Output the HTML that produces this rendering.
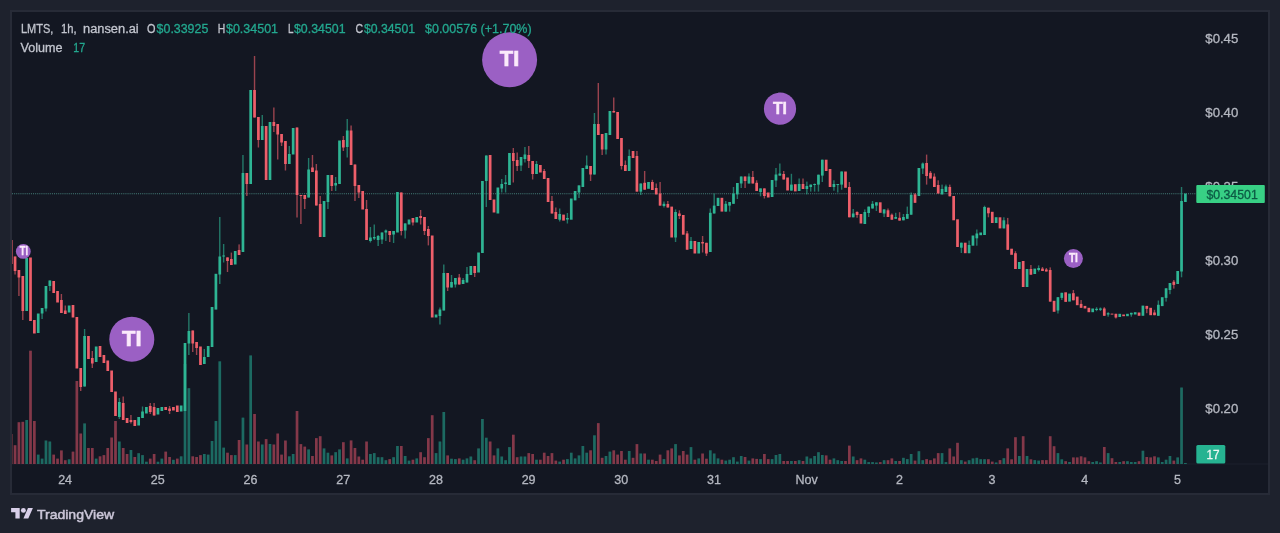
<!DOCTYPE html>
<html><head><meta charset="utf-8"><title>LMTS chart</title>
<style>
html,body{margin:0;padding:0;background:#1e222d;}
body{width:1280px;height:533px;overflow:hidden;font-family:"Liberation Sans",sans-serif;}
svg{display:block;}
svg text{font-family:"Liberation Sans",sans-serif;}
</style></head><body>
<svg width="1280" height="533" viewBox="0 0 1280 533">
<rect x="0" y="0" width="1280" height="533" fill="#1e222d"/>
<rect x="11" y="11" width="1258" height="483" fill="#131722" stroke="#272b37" stroke-width="2"/>
<defs><filter id="bl" x="-2%" y="-2%" width="104%" height="104%"><feGaussianBlur stdDeviation="0.4"/></filter><clipPath id="cp"><rect x="12" y="12" width="1256" height="452"/></clipPath></defs>
<rect x="12" y="463.5" width="1256" height="1" fill="#1d212c"/>
<g filter="url(#bl)">
<g clip-path="url(#cp)">
<g><rect x="9.85" y="434.0" width="2.7" height="30.0" fill="#84394a"/><rect x="13.71" y="445.2" width="2.7" height="18.8" fill="#84394a"/><rect x="17.57" y="422.2" width="2.7" height="41.8" fill="#84394a"/><rect x="21.44" y="421.8" width="2.7" height="42.2" fill="#84394a"/><rect x="25.30" y="420.0" width="2.7" height="44.0" fill="#1f6b62"/><rect x="29.16" y="350.7" width="2.7" height="113.3" fill="#84394a"/><rect x="33.02" y="421.0" width="2.7" height="43.0" fill="#84394a"/><rect x="36.89" y="454.6" width="2.7" height="9.4" fill="#1f6b62"/><rect x="40.75" y="458.6" width="2.7" height="5.4" fill="#1f6b62"/><rect x="44.61" y="440.5" width="2.7" height="23.5" fill="#1f6b62"/><rect x="48.48" y="441.5" width="2.7" height="22.5" fill="#1f6b62"/><rect x="52.34" y="454.6" width="2.7" height="9.4" fill="#84394a"/><rect x="56.20" y="458.6" width="2.7" height="5.4" fill="#84394a"/><rect x="60.06" y="450.4" width="2.7" height="13.6" fill="#84394a"/><rect x="63.92" y="460.2" width="2.7" height="3.8" fill="#84394a"/><rect x="67.79" y="459.3" width="2.7" height="4.7" fill="#1f6b62"/><rect x="71.65" y="451.6" width="2.7" height="12.4" fill="#84394a"/><rect x="75.51" y="381.0" width="2.7" height="83.0" fill="#84394a"/><rect x="79.38" y="433.5" width="2.7" height="30.5" fill="#84394a"/><rect x="83.24" y="423.4" width="2.7" height="40.6" fill="#1f6b62"/><rect x="87.10" y="448.0" width="2.7" height="16.0" fill="#84394a"/><rect x="90.96" y="448.0" width="2.7" height="16.0" fill="#84394a"/><rect x="94.83" y="458.6" width="2.7" height="5.4" fill="#1f6b62"/><rect x="98.69" y="456.3" width="2.7" height="7.7" fill="#84394a"/><rect x="102.55" y="455.1" width="2.7" height="8.9" fill="#84394a"/><rect x="106.41" y="448.0" width="2.7" height="16.0" fill="#84394a"/><rect x="110.28" y="437.5" width="2.7" height="26.5" fill="#84394a"/><rect x="114.14" y="421.0" width="2.7" height="43.0" fill="#84394a"/><rect x="118.00" y="441.5" width="2.7" height="22.5" fill="#1f6b62"/><rect x="121.86" y="448.0" width="2.7" height="16.0" fill="#84394a"/><rect x="125.73" y="454.0" width="2.7" height="10.0" fill="#84394a"/><rect x="129.59" y="450.0" width="2.7" height="14.0" fill="#1f6b62"/><rect x="133.45" y="457.0" width="2.7" height="7.0" fill="#84394a"/><rect x="137.31" y="453.2" width="2.7" height="10.8" fill="#1f6b62"/><rect x="141.17" y="455.1" width="2.7" height="8.9" fill="#1f6b62"/><rect x="145.04" y="461.7" width="2.7" height="2.3" fill="#1f6b62"/><rect x="148.90" y="458.6" width="2.7" height="5.4" fill="#84394a"/><rect x="152.76" y="454.0" width="2.7" height="10.0" fill="#84394a"/><rect x="156.62" y="461.7" width="2.7" height="2.3" fill="#1f6b62"/><rect x="160.49" y="458.6" width="2.7" height="5.4" fill="#1f6b62"/><rect x="164.35" y="451.6" width="2.7" height="12.4" fill="#84394a"/><rect x="168.21" y="457.0" width="2.7" height="7.0" fill="#84394a"/><rect x="172.07" y="459.8" width="2.7" height="4.2" fill="#1f6b62"/><rect x="175.94" y="458.6" width="2.7" height="5.4" fill="#84394a"/><rect x="179.80" y="456.3" width="2.7" height="7.7" fill="#1f6b62"/><rect x="183.66" y="364.0" width="2.7" height="100.0" fill="#1f6b62"/><rect x="187.52" y="388.2" width="2.7" height="75.8" fill="#1f6b62"/><rect x="191.39" y="456.3" width="2.7" height="7.7" fill="#84394a"/><rect x="195.25" y="457.0" width="2.7" height="7.0" fill="#84394a"/><rect x="199.11" y="455.1" width="2.7" height="8.9" fill="#84394a"/><rect x="202.97" y="454.0" width="2.7" height="10.0" fill="#1f6b62"/><rect x="206.84" y="454.6" width="2.7" height="9.4" fill="#1f6b62"/><rect x="210.70" y="441.0" width="2.7" height="23.0" fill="#1f6b62"/><rect x="214.56" y="421.0" width="2.7" height="43.0" fill="#1f6b62"/><rect x="218.42" y="361.3" width="2.7" height="102.7" fill="#1f6b62"/><rect x="222.29" y="447.6" width="2.7" height="16.4" fill="#1f6b62"/><rect x="226.15" y="452.7" width="2.7" height="11.3" fill="#84394a"/><rect x="230.01" y="455.1" width="2.7" height="8.9" fill="#84394a"/><rect x="233.87" y="455.1" width="2.7" height="8.9" fill="#1f6b62"/><rect x="237.74" y="440.0" width="2.7" height="24.0" fill="#84394a"/><rect x="241.60" y="417.6" width="2.7" height="46.4" fill="#1f6b62"/><rect x="245.46" y="444.5" width="2.7" height="19.5" fill="#84394a"/><rect x="249.32" y="355.4" width="2.7" height="108.6" fill="#1f6b62"/><rect x="253.19" y="414.0" width="2.7" height="50.0" fill="#84394a"/><rect x="257.05" y="441.5" width="2.7" height="22.5" fill="#84394a"/><rect x="260.91" y="444.5" width="2.7" height="19.5" fill="#1f6b62"/><rect x="264.77" y="439.1" width="2.7" height="24.9" fill="#84394a"/><rect x="268.64" y="444.0" width="2.7" height="20.0" fill="#1f6b62"/><rect x="272.50" y="444.5" width="2.7" height="19.5" fill="#84394a"/><rect x="276.36" y="433.5" width="2.7" height="30.5" fill="#84394a"/><rect x="280.22" y="454.6" width="2.7" height="9.4" fill="#84394a"/><rect x="284.09" y="440.5" width="2.7" height="23.5" fill="#84394a"/><rect x="287.95" y="456.3" width="2.7" height="7.7" fill="#1f6b62"/><rect x="291.81" y="454.0" width="2.7" height="10.0" fill="#1f6b62"/><rect x="295.67" y="411.0" width="2.7" height="53.0" fill="#84394a"/><rect x="299.54" y="444.1" width="2.7" height="19.9" fill="#84394a"/><rect x="303.40" y="446.6" width="2.7" height="17.4" fill="#84394a"/><rect x="307.26" y="449.4" width="2.7" height="14.6" fill="#1f6b62"/><rect x="311.12" y="456.0" width="2.7" height="8.0" fill="#84394a"/><rect x="314.99" y="438.1" width="2.7" height="25.9" fill="#84394a"/><rect x="318.85" y="436.2" width="2.7" height="27.8" fill="#84394a"/><rect x="322.71" y="448.4" width="2.7" height="15.6" fill="#1f6b62"/><rect x="326.57" y="452.7" width="2.7" height="11.3" fill="#1f6b62"/><rect x="330.44" y="455.4" width="2.7" height="8.6" fill="#84394a"/><rect x="334.30" y="452.2" width="2.7" height="11.8" fill="#1f6b62"/><rect x="338.16" y="449.4" width="2.7" height="14.6" fill="#1f6b62"/><rect x="342.02" y="442.2" width="2.7" height="21.8" fill="#84394a"/><rect x="345.89" y="458.4" width="2.7" height="5.6" fill="#1f6b62"/><rect x="349.75" y="440.4" width="2.7" height="23.6" fill="#84394a"/><rect x="353.61" y="448.0" width="2.7" height="16.0" fill="#84394a"/><rect x="357.47" y="456.5" width="2.7" height="7.5" fill="#84394a"/><rect x="361.34" y="459.7" width="2.7" height="4.3" fill="#84394a"/><rect x="365.20" y="441.5" width="2.7" height="22.5" fill="#84394a"/><rect x="369.06" y="454.0" width="2.7" height="10.0" fill="#1f6b62"/><rect x="372.92" y="453.1" width="2.7" height="10.9" fill="#1f6b62"/><rect x="376.79" y="457.2" width="2.7" height="6.8" fill="#1f6b62"/><rect x="380.65" y="457.2" width="2.7" height="6.8" fill="#1f6b62"/><rect x="384.51" y="460.2" width="2.7" height="3.8" fill="#1f6b62"/><rect x="388.37" y="459.1" width="2.7" height="4.9" fill="#84394a"/><rect x="392.24" y="457.2" width="2.7" height="6.8" fill="#1f6b62"/><rect x="396.10" y="446.0" width="2.7" height="18.0" fill="#1f6b62"/><rect x="399.96" y="446.0" width="2.7" height="18.0" fill="#84394a"/><rect x="403.82" y="456.0" width="2.7" height="8.0" fill="#1f6b62"/><rect x="407.69" y="460.6" width="2.7" height="3.4" fill="#1f6b62"/><rect x="411.55" y="459.7" width="2.7" height="4.3" fill="#84394a"/><rect x="415.41" y="458.4" width="2.7" height="5.6" fill="#1f6b62"/><rect x="419.27" y="452.2" width="2.7" height="11.8" fill="#84394a"/><rect x="423.14" y="457.2" width="2.7" height="6.8" fill="#84394a"/><rect x="427.00" y="438.1" width="2.7" height="25.9" fill="#84394a"/><rect x="430.86" y="415.2" width="2.7" height="48.8" fill="#84394a"/><rect x="434.72" y="453.1" width="2.7" height="10.9" fill="#1f6b62"/><rect x="438.59" y="441.5" width="2.7" height="22.5" fill="#1f6b62"/><rect x="442.45" y="412.0" width="2.7" height="52.0" fill="#1f6b62"/><rect x="446.31" y="455.4" width="2.7" height="8.6" fill="#84394a"/><rect x="450.17" y="458.7" width="2.7" height="5.3" fill="#1f6b62"/><rect x="454.04" y="459.1" width="2.7" height="4.9" fill="#1f6b62"/><rect x="457.90" y="458.4" width="2.7" height="5.6" fill="#84394a"/><rect x="461.76" y="459.7" width="2.7" height="4.3" fill="#1f6b62"/><rect x="465.62" y="458.4" width="2.7" height="5.6" fill="#1f6b62"/><rect x="469.49" y="456.5" width="2.7" height="7.5" fill="#1f6b62"/><rect x="473.35" y="460.2" width="2.7" height="3.8" fill="#84394a"/><rect x="477.21" y="448.4" width="2.7" height="15.6" fill="#1f6b62"/><rect x="481.07" y="419.0" width="2.7" height="45.0" fill="#1f6b62"/><rect x="484.94" y="437.7" width="2.7" height="26.3" fill="#1f6b62"/><rect x="488.80" y="441.5" width="2.7" height="22.5" fill="#84394a"/><rect x="492.66" y="455.4" width="2.7" height="8.6" fill="#84394a"/><rect x="496.52" y="448.4" width="2.7" height="15.6" fill="#1f6b62"/><rect x="500.39" y="456.5" width="2.7" height="7.5" fill="#1f6b62"/><rect x="504.25" y="460.2" width="2.7" height="3.8" fill="#1f6b62"/><rect x="508.11" y="447.1" width="2.7" height="16.9" fill="#1f6b62"/><rect x="511.98" y="434.7" width="2.7" height="29.3" fill="#84394a"/><rect x="515.84" y="457.2" width="2.7" height="6.8" fill="#84394a"/><rect x="519.70" y="456.5" width="2.7" height="7.5" fill="#1f6b62"/><rect x="523.56" y="456.5" width="2.7" height="7.5" fill="#1f6b62"/><rect x="527.42" y="453.1" width="2.7" height="10.9" fill="#84394a"/><rect x="531.29" y="454.0" width="2.7" height="10.0" fill="#84394a"/><rect x="535.15" y="459.7" width="2.7" height="4.3" fill="#1f6b62"/><rect x="539.01" y="459.7" width="2.7" height="4.3" fill="#84394a"/><rect x="542.88" y="452.7" width="2.7" height="11.3" fill="#84394a"/><rect x="546.74" y="456.0" width="2.7" height="8.0" fill="#84394a"/><rect x="550.60" y="453.1" width="2.7" height="10.9" fill="#84394a"/><rect x="554.46" y="460.6" width="2.7" height="3.4" fill="#84394a"/><rect x="558.33" y="461.6" width="2.7" height="2.4" fill="#1f6b62"/><rect x="562.19" y="459.7" width="2.7" height="4.3" fill="#84394a"/><rect x="566.05" y="459.1" width="2.7" height="4.9" fill="#1f6b62"/><rect x="569.91" y="452.7" width="2.7" height="11.3" fill="#1f6b62"/><rect x="573.77" y="458.4" width="2.7" height="5.6" fill="#1f6b62"/><rect x="577.64" y="455.4" width="2.7" height="8.6" fill="#1f6b62"/><rect x="581.50" y="446.0" width="2.7" height="18.0" fill="#1f6b62"/><rect x="585.36" y="452.7" width="2.7" height="11.3" fill="#1f6b62"/><rect x="589.23" y="450.3" width="2.7" height="13.7" fill="#84394a"/><rect x="593.09" y="435.3" width="2.7" height="28.7" fill="#1f6b62"/><rect x="596.95" y="423.1" width="2.7" height="40.9" fill="#84394a"/><rect x="600.81" y="457.8" width="2.7" height="6.2" fill="#84394a"/><rect x="604.67" y="456.0" width="2.7" height="8.0" fill="#1f6b62"/><rect x="608.54" y="451.6" width="2.7" height="12.4" fill="#1f6b62"/><rect x="612.40" y="450.3" width="2.7" height="13.7" fill="#84394a"/><rect x="616.26" y="454.6" width="2.7" height="9.4" fill="#84394a"/><rect x="620.12" y="451.0" width="2.7" height="13.0" fill="#84394a"/><rect x="623.99" y="459.7" width="2.7" height="4.3" fill="#84394a"/><rect x="627.85" y="451.0" width="2.7" height="13.0" fill="#1f6b62"/><rect x="631.71" y="457.8" width="2.7" height="6.2" fill="#84394a"/><rect x="635.58" y="444.1" width="2.7" height="19.9" fill="#84394a"/><rect x="639.44" y="453.5" width="2.7" height="10.5" fill="#1f6b62"/><rect x="643.30" y="453.5" width="2.7" height="10.5" fill="#84394a"/><rect x="647.16" y="459.7" width="2.7" height="4.3" fill="#1f6b62"/><rect x="651.02" y="459.7" width="2.7" height="4.3" fill="#84394a"/><rect x="654.89" y="461.0" width="2.7" height="3.0" fill="#84394a"/><rect x="658.75" y="454.6" width="2.7" height="9.4" fill="#84394a"/><rect x="662.61" y="459.1" width="2.7" height="4.9" fill="#1f6b62"/><rect x="666.48" y="450.3" width="2.7" height="13.7" fill="#84394a"/><rect x="670.34" y="448.4" width="2.7" height="15.6" fill="#84394a"/><rect x="674.20" y="444.1" width="2.7" height="19.9" fill="#1f6b62"/><rect x="678.06" y="455.4" width="2.7" height="8.6" fill="#84394a"/><rect x="681.92" y="451.0" width="2.7" height="13.0" fill="#84394a"/><rect x="685.79" y="454.6" width="2.7" height="9.4" fill="#84394a"/><rect x="689.65" y="447.1" width="2.7" height="16.9" fill="#1f6b62"/><rect x="693.51" y="459.7" width="2.7" height="4.3" fill="#84394a"/><rect x="697.38" y="458.4" width="2.7" height="5.6" fill="#1f6b62"/><rect x="701.24" y="453.5" width="2.7" height="10.5" fill="#84394a"/><rect x="705.10" y="458.7" width="2.7" height="5.3" fill="#84394a"/><rect x="708.96" y="450.3" width="2.7" height="13.7" fill="#1f6b62"/><rect x="712.83" y="453.5" width="2.7" height="10.5" fill="#1f6b62"/><rect x="716.69" y="458.4" width="2.7" height="5.6" fill="#1f6b62"/><rect x="720.55" y="459.7" width="2.7" height="4.3" fill="#84394a"/><rect x="724.41" y="460.6" width="2.7" height="3.4" fill="#1f6b62"/><rect x="728.27" y="459.7" width="2.7" height="4.3" fill="#1f6b62"/><rect x="732.14" y="457.2" width="2.7" height="6.8" fill="#1f6b62"/><rect x="736.00" y="461.6" width="2.7" height="2.4" fill="#1f6b62"/><rect x="739.86" y="456.0" width="2.7" height="8.0" fill="#1f6b62"/><rect x="743.73" y="457.0" width="2.7" height="7.0" fill="#84394a"/><rect x="747.59" y="460.6" width="2.7" height="3.4" fill="#1f6b62"/><rect x="751.45" y="458.4" width="2.7" height="5.6" fill="#84394a"/><rect x="755.31" y="458.9" width="2.7" height="5.1" fill="#84394a"/><rect x="759.17" y="459.1" width="2.7" height="4.9" fill="#1f6b62"/><rect x="763.04" y="454.0" width="2.7" height="10.0" fill="#84394a"/><rect x="766.90" y="459.1" width="2.7" height="4.9" fill="#84394a"/><rect x="770.76" y="459.1" width="2.7" height="4.9" fill="#1f6b62"/><rect x="774.62" y="455.0" width="2.7" height="9.0" fill="#1f6b62"/><rect x="778.49" y="454.0" width="2.7" height="10.0" fill="#1f6b62"/><rect x="782.35" y="461.0" width="2.7" height="3.0" fill="#84394a"/><rect x="786.21" y="461.0" width="2.7" height="3.0" fill="#84394a"/><rect x="790.07" y="461.0" width="2.7" height="3.0" fill="#1f6b62"/><rect x="793.94" y="461.0" width="2.7" height="3.0" fill="#84394a"/><rect x="797.80" y="460.2" width="2.7" height="3.8" fill="#1f6b62"/><rect x="801.66" y="461.0" width="2.7" height="3.0" fill="#84394a"/><rect x="805.52" y="456.5" width="2.7" height="7.5" fill="#1f6b62"/><rect x="809.39" y="458.4" width="2.7" height="5.6" fill="#1f6b62"/><rect x="813.25" y="456.0" width="2.7" height="8.0" fill="#1f6b62"/><rect x="817.11" y="452.2" width="2.7" height="11.8" fill="#1f6b62"/><rect x="820.98" y="455.0" width="2.7" height="9.0" fill="#1f6b62"/><rect x="824.84" y="455.4" width="2.7" height="8.6" fill="#84394a"/><rect x="828.70" y="459.7" width="2.7" height="4.3" fill="#84394a"/><rect x="832.56" y="458.4" width="2.7" height="5.6" fill="#1f6b62"/><rect x="836.42" y="460.2" width="2.7" height="3.8" fill="#1f6b62"/><rect x="840.29" y="461.0" width="2.7" height="3.0" fill="#1f6b62"/><rect x="844.15" y="461.0" width="2.7" height="3.0" fill="#84394a"/><rect x="848.01" y="445.6" width="2.7" height="18.4" fill="#84394a"/><rect x="851.88" y="456.5" width="2.7" height="7.5" fill="#1f6b62"/><rect x="855.74" y="460.2" width="2.7" height="3.8" fill="#84394a"/><rect x="859.60" y="458.4" width="2.7" height="5.6" fill="#84394a"/><rect x="863.46" y="459.7" width="2.7" height="4.3" fill="#1f6b62"/><rect x="867.32" y="462.1" width="2.7" height="1.9" fill="#1f6b62"/><rect x="871.19" y="462.1" width="2.7" height="1.9" fill="#1f6b62"/><rect x="875.05" y="462.5" width="2.7" height="1.5" fill="#1f6b62"/><rect x="878.91" y="462.1" width="2.7" height="1.9" fill="#84394a"/><rect x="882.77" y="460.2" width="2.7" height="3.8" fill="#1f6b62"/><rect x="886.64" y="460.2" width="2.7" height="3.8" fill="#84394a"/><rect x="890.50" y="458.4" width="2.7" height="5.6" fill="#84394a"/><rect x="894.36" y="461.0" width="2.7" height="3.0" fill="#1f6b62"/><rect x="898.23" y="461.0" width="2.7" height="3.0" fill="#84394a"/><rect x="902.09" y="457.8" width="2.7" height="6.2" fill="#1f6b62"/><rect x="905.95" y="459.1" width="2.7" height="4.9" fill="#1f6b62"/><rect x="909.81" y="454.0" width="2.7" height="10.0" fill="#1f6b62"/><rect x="913.67" y="460.6" width="2.7" height="3.4" fill="#84394a"/><rect x="917.54" y="451.2" width="2.7" height="12.8" fill="#1f6b62"/><rect x="921.40" y="460.2" width="2.7" height="3.8" fill="#1f6b62"/><rect x="925.26" y="459.1" width="2.7" height="4.9" fill="#84394a"/><rect x="929.12" y="460.2" width="2.7" height="3.8" fill="#84394a"/><rect x="932.99" y="458.4" width="2.7" height="5.6" fill="#84394a"/><rect x="936.85" y="453.1" width="2.7" height="10.9" fill="#84394a"/><rect x="940.71" y="453.1" width="2.7" height="10.9" fill="#1f6b62"/><rect x="944.57" y="462.1" width="2.7" height="1.9" fill="#1f6b62"/><rect x="948.44" y="448.4" width="2.7" height="15.6" fill="#84394a"/><rect x="952.30" y="456.5" width="2.7" height="7.5" fill="#84394a"/><rect x="956.16" y="442.8" width="2.7" height="21.2" fill="#84394a"/><rect x="960.02" y="460.2" width="2.7" height="3.8" fill="#1f6b62"/><rect x="963.89" y="461.6" width="2.7" height="2.4" fill="#84394a"/><rect x="967.75" y="460.2" width="2.7" height="3.8" fill="#1f6b62"/><rect x="971.61" y="458.4" width="2.7" height="5.6" fill="#1f6b62"/><rect x="975.48" y="457.8" width="2.7" height="6.2" fill="#1f6b62"/><rect x="979.34" y="459.2" width="2.7" height="4.8" fill="#1f6b62"/><rect x="983.20" y="459.2" width="2.7" height="4.8" fill="#1f6b62"/><rect x="987.06" y="459.2" width="2.7" height="4.8" fill="#84394a"/><rect x="990.92" y="461.6" width="2.7" height="2.4" fill="#84394a"/><rect x="994.79" y="462.5" width="2.7" height="1.5" fill="#1f6b62"/><rect x="998.65" y="460.1" width="2.7" height="3.9" fill="#84394a"/><rect x="1002.51" y="458.2" width="2.7" height="5.8" fill="#1f6b62"/><rect x="1006.38" y="448.4" width="2.7" height="15.6" fill="#84394a"/><rect x="1010.24" y="459.3" width="2.7" height="4.7" fill="#84394a"/><rect x="1014.10" y="437.2" width="2.7" height="26.8" fill="#84394a"/><rect x="1017.96" y="456.0" width="2.7" height="8.0" fill="#1f6b62"/><rect x="1021.82" y="436.2" width="2.7" height="27.8" fill="#84394a"/><rect x="1025.69" y="456.0" width="2.7" height="8.0" fill="#1f6b62"/><rect x="1029.55" y="459.3" width="2.7" height="4.7" fill="#84394a"/><rect x="1033.41" y="460.1" width="2.7" height="3.9" fill="#1f6b62"/><rect x="1037.28" y="460.6" width="2.7" height="3.4" fill="#1f6b62"/><rect x="1041.14" y="460.1" width="2.7" height="3.9" fill="#84394a"/><rect x="1045.00" y="460.1" width="2.7" height="3.9" fill="#84394a"/><rect x="1048.86" y="436.2" width="2.7" height="27.8" fill="#84394a"/><rect x="1052.73" y="446.2" width="2.7" height="17.8" fill="#84394a"/><rect x="1056.59" y="453.1" width="2.7" height="10.9" fill="#1f6b62"/><rect x="1060.45" y="459.3" width="2.7" height="4.7" fill="#1f6b62"/><rect x="1064.31" y="461.2" width="2.7" height="2.8" fill="#84394a"/><rect x="1068.18" y="462.0" width="2.7" height="2.0" fill="#1f6b62"/><rect x="1072.04" y="457.4" width="2.7" height="6.6" fill="#84394a"/><rect x="1075.90" y="457.4" width="2.7" height="6.6" fill="#84394a"/><rect x="1079.76" y="456.3" width="2.7" height="7.7" fill="#84394a"/><rect x="1083.62" y="457.4" width="2.7" height="6.6" fill="#84394a"/><rect x="1087.49" y="461.2" width="2.7" height="2.8" fill="#84394a"/><rect x="1091.35" y="462.0" width="2.7" height="2.0" fill="#1f6b62"/><rect x="1095.21" y="461.2" width="2.7" height="2.8" fill="#1f6b62"/><rect x="1099.08" y="462.5" width="2.7" height="1.5" fill="#1f6b62"/><rect x="1102.94" y="447.0" width="2.7" height="17.0" fill="#84394a"/><rect x="1106.80" y="453.1" width="2.7" height="10.9" fill="#1f6b62"/><rect x="1110.66" y="458.2" width="2.7" height="5.8" fill="#84394a"/><rect x="1114.53" y="462.0" width="2.7" height="2.0" fill="#84394a"/><rect x="1118.39" y="462.0" width="2.7" height="2.0" fill="#1f6b62"/><rect x="1122.25" y="461.2" width="2.7" height="2.8" fill="#84394a"/><rect x="1126.11" y="461.2" width="2.7" height="2.8" fill="#1f6b62"/><rect x="1129.98" y="462.0" width="2.7" height="2.0" fill="#1f6b62"/><rect x="1133.84" y="462.0" width="2.7" height="2.0" fill="#1f6b62"/><rect x="1137.70" y="461.2" width="2.7" height="2.8" fill="#84394a"/><rect x="1141.56" y="450.7" width="2.7" height="13.3" fill="#1f6b62"/><rect x="1145.43" y="457.0" width="2.7" height="7.0" fill="#84394a"/><rect x="1149.29" y="457.4" width="2.7" height="6.6" fill="#84394a"/><rect x="1153.15" y="456.3" width="2.7" height="7.7" fill="#84394a"/><rect x="1157.01" y="457.4" width="2.7" height="6.6" fill="#1f6b62"/><rect x="1160.88" y="462.0" width="2.7" height="2.0" fill="#1f6b62"/><rect x="1164.74" y="459.7" width="2.7" height="4.3" fill="#1f6b62"/><rect x="1168.60" y="456.0" width="2.7" height="8.0" fill="#1f6b62"/><rect x="1172.46" y="460.6" width="2.7" height="3.4" fill="#84394a"/><rect x="1176.33" y="457.4" width="2.7" height="6.6" fill="#1f6b62"/><rect x="1180.19" y="387.5" width="2.7" height="76.5" fill="#1f6b62"/><rect x="1184.05" y="463.0" width="2.7" height="1.0" fill="#1f6b62"/></g>
<line x1="12" y1="193.7" x2="1196" y2="193.7" stroke="#4f8f88" stroke-width="1.1" opacity="0.85" stroke-dasharray="1.05 1.05"/>
<g><rect x="9.85" y="240.0" width="2.7" height="24.0" fill="#ee5f6b"/><rect x="14.36" y="256.5" width="1.4" height="18.0" fill="#ee5f6b" opacity="0.62"/><rect x="13.71" y="256.5" width="2.7" height="14.5" fill="#ee5f6b"/><rect x="18.22" y="270.0" width="1.4" height="26.0" fill="#ee5f6b" opacity="0.62"/><rect x="17.57" y="270.0" width="2.7" height="7.5" fill="#ee5f6b"/><rect x="22.09" y="276.0" width="1.4" height="44.0" fill="#ee5f6b" opacity="0.62"/><rect x="21.44" y="276.0" width="2.7" height="35.0" fill="#ee5f6b"/><rect x="25.30" y="258.0" width="2.7" height="53.0" fill="#2fb594"/><rect x="29.16" y="257.5" width="2.7" height="63.5" fill="#ee5f6b"/><rect x="33.02" y="320.0" width="2.7" height="13.5" fill="#ee5f6b"/><rect x="36.89" y="313.5" width="2.7" height="19.5" fill="#2fb594"/><rect x="41.40" y="308.0" width="1.4" height="11.0" fill="#2fb594" opacity="0.62"/><rect x="40.75" y="308.0" width="2.7" height="5.5" fill="#2fb594"/><rect x="45.26" y="286.0" width="1.4" height="25.5" fill="#2fb594" opacity="0.62"/><rect x="44.61" y="286.0" width="2.7" height="22.5" fill="#2fb594"/><rect x="49.12" y="280.5" width="1.4" height="10.5" fill="#2fb594" opacity="0.62"/><rect x="48.48" y="280.5" width="2.7" height="5.5" fill="#2fb594"/><rect x="52.34" y="281.0" width="2.7" height="12.0" fill="#ee5f6b"/><rect x="56.20" y="291.0" width="2.7" height="11.5" fill="#ee5f6b"/><rect x="60.71" y="294.0" width="1.4" height="19.0" fill="#ee5f6b" opacity="0.62"/><rect x="60.06" y="300.0" width="2.7" height="13.0" fill="#ee5f6b"/><rect x="64.57" y="305.5" width="1.4" height="8.5" fill="#ee5f6b" opacity="0.62"/><rect x="63.92" y="310.5" width="2.7" height="3.5" fill="#ee5f6b"/><rect x="67.79" y="305.5" width="2.7" height="7.0" fill="#2fb594"/><rect x="71.65" y="305.0" width="2.7" height="12.5" fill="#ee5f6b"/><rect x="75.51" y="317.0" width="2.7" height="51.5" fill="#ee5f6b"/><rect x="80.02" y="368.0" width="1.4" height="23.0" fill="#ee5f6b" opacity="0.62"/><rect x="79.38" y="368.0" width="2.7" height="19.0" fill="#ee5f6b"/><rect x="83.89" y="329.0" width="1.4" height="57.5" fill="#2fb594" opacity="0.62"/><rect x="83.24" y="336.0" width="2.7" height="50.5" fill="#2fb594"/><rect x="87.10" y="336.0" width="2.7" height="23.0" fill="#ee5f6b"/><rect x="91.61" y="351.0" width="1.4" height="17.0" fill="#ee5f6b" opacity="0.62"/><rect x="90.96" y="358.0" width="2.7" height="5.5" fill="#ee5f6b"/><rect x="94.83" y="346.5" width="2.7" height="15.5" fill="#2fb594"/><rect x="98.69" y="346.0" width="2.7" height="11.0" fill="#ee5f6b"/><rect x="102.55" y="355.0" width="2.7" height="8.0" fill="#ee5f6b"/><rect x="106.41" y="360.5" width="2.7" height="10.5" fill="#ee5f6b"/><rect x="110.28" y="370.5" width="2.7" height="21.5" fill="#ee5f6b"/><rect x="114.14" y="391.5" width="2.7" height="24.5" fill="#ee5f6b"/><rect x="118.65" y="398.0" width="1.4" height="21.0" fill="#2fb594" opacity="0.62"/><rect x="118.00" y="402.0" width="2.7" height="15.0" fill="#2fb594"/><rect x="122.51" y="396.5" width="1.4" height="23.5" fill="#ee5f6b" opacity="0.62"/><rect x="121.86" y="403.0" width="2.7" height="17.0" fill="#ee5f6b"/><rect x="125.73" y="418.0" width="2.7" height="5.0" fill="#ee5f6b"/><rect x="130.24" y="415.0" width="1.4" height="8.5" fill="#ee5f6b" opacity="0.62"/><rect x="129.59" y="420.0" width="2.7" height="2.0" fill="#ee5f6b"/><rect x="133.45" y="420.0" width="2.7" height="6.0" fill="#ee5f6b"/><rect x="137.31" y="417.0" width="2.7" height="8.5" fill="#2fb594"/><rect x="141.82" y="406.5" width="1.4" height="11.5" fill="#2fb594" opacity="0.62"/><rect x="141.17" y="411.5" width="2.7" height="6.5" fill="#2fb594"/><rect x="145.04" y="407.0" width="2.7" height="6.5" fill="#2fb594"/><rect x="149.55" y="403.0" width="1.4" height="11.0" fill="#ee5f6b" opacity="0.62"/><rect x="148.90" y="406.0" width="2.7" height="6.0" fill="#ee5f6b"/><rect x="153.41" y="403.0" width="1.4" height="12.5" fill="#ee5f6b" opacity="0.62"/><rect x="152.76" y="407.0" width="2.7" height="8.5" fill="#ee5f6b"/><rect x="156.62" y="408.0" width="2.7" height="6.5" fill="#2fb594"/><rect x="160.49" y="407.0" width="2.7" height="4.0" fill="#2fb594"/><rect x="164.35" y="407.0" width="2.7" height="3.0" fill="#ee5f6b"/><rect x="168.86" y="406.0" width="1.4" height="8.0" fill="#ee5f6b" opacity="0.62"/><rect x="168.21" y="408.5" width="2.7" height="2.5" fill="#ee5f6b"/><rect x="172.07" y="407.0" width="2.7" height="3.5" fill="#ee5f6b"/><rect x="175.94" y="405.5" width="2.7" height="6.5" fill="#ee5f6b"/><rect x="179.80" y="405.5" width="2.7" height="6.0" fill="#2fb594"/><rect x="183.66" y="343.0" width="2.7" height="68.0" fill="#2fb594"/><rect x="188.17" y="313.0" width="1.4" height="42.0" fill="#2fb594" opacity="0.62"/><rect x="187.52" y="331.0" width="2.7" height="12.5" fill="#2fb594"/><rect x="192.04" y="330.5" width="1.4" height="21.5" fill="#ee5f6b" opacity="0.62"/><rect x="191.39" y="330.5" width="2.7" height="13.0" fill="#ee5f6b"/><rect x="195.90" y="342.0" width="1.4" height="13.0" fill="#ee5f6b" opacity="0.62"/><rect x="195.25" y="342.0" width="2.7" height="6.0" fill="#ee5f6b"/><rect x="199.11" y="346.5" width="2.7" height="18.5" fill="#ee5f6b"/><rect x="203.62" y="349.0" width="1.4" height="15.0" fill="#2fb594" opacity="0.62"/><rect x="202.97" y="357.0" width="2.7" height="7.0" fill="#2fb594"/><rect x="206.84" y="346.0" width="2.7" height="11.0" fill="#2fb594"/><rect x="210.70" y="307.0" width="2.7" height="40.0" fill="#2fb594"/><rect x="214.56" y="273.8" width="2.7" height="35.8" fill="#2fb594"/><rect x="219.07" y="217.0" width="1.4" height="67.0" fill="#2fb594" opacity="0.62"/><rect x="218.42" y="256.5" width="2.7" height="18.0" fill="#2fb594"/><rect x="222.94" y="244.0" width="1.4" height="18.5" fill="#2fb594" opacity="0.62"/><rect x="222.29" y="255.5" width="2.7" height="1.0" fill="#2fb594"/><rect x="226.80" y="257.4" width="1.4" height="14.6" fill="#ee5f6b" opacity="0.62"/><rect x="226.15" y="257.4" width="2.7" height="3.6" fill="#ee5f6b"/><rect x="230.66" y="252.6" width="1.4" height="12.4" fill="#ee5f6b" opacity="0.62"/><rect x="230.01" y="259.0" width="2.7" height="6.0" fill="#ee5f6b"/><rect x="233.87" y="251.0" width="2.7" height="13.5" fill="#2fb594"/><rect x="238.39" y="244.4" width="1.4" height="10.6" fill="#ee5f6b" opacity="0.62"/><rect x="237.74" y="250.0" width="2.7" height="5.0" fill="#ee5f6b"/><rect x="242.25" y="155.0" width="1.4" height="97.0" fill="#2fb594" opacity="0.62"/><rect x="241.60" y="173.0" width="2.7" height="79.0" fill="#2fb594"/><rect x="246.11" y="173.0" width="1.4" height="23.0" fill="#ee5f6b" opacity="0.62"/><rect x="245.46" y="173.0" width="2.7" height="11.0" fill="#ee5f6b"/><rect x="249.32" y="90.0" width="2.7" height="94.0" fill="#2fb594"/><rect x="253.84" y="56.0" width="1.4" height="61.5" fill="#ee5f6b" opacity="0.62"/><rect x="253.19" y="90.0" width="2.7" height="27.5" fill="#ee5f6b"/><rect x="257.70" y="117.0" width="1.4" height="30.5" fill="#ee5f6b" opacity="0.62"/><rect x="257.05" y="117.0" width="2.7" height="23.0" fill="#ee5f6b"/><rect x="261.56" y="115.0" width="1.4" height="25.0" fill="#2fb594" opacity="0.62"/><rect x="260.91" y="126.0" width="2.7" height="14.0" fill="#2fb594"/><rect x="264.77" y="126.0" width="2.7" height="54.0" fill="#ee5f6b"/><rect x="268.64" y="122.0" width="2.7" height="58.0" fill="#2fb594"/><rect x="273.15" y="107.5" width="1.4" height="24.5" fill="#ee5f6b" opacity="0.62"/><rect x="272.50" y="122.0" width="2.7" height="4.0" fill="#ee5f6b"/><rect x="277.01" y="124.0" width="1.4" height="35.5" fill="#ee5f6b" opacity="0.62"/><rect x="276.36" y="124.0" width="2.7" height="10.5" fill="#ee5f6b"/><rect x="280.88" y="134.0" width="1.4" height="12.0" fill="#ee5f6b" opacity="0.62"/><rect x="280.22" y="134.0" width="2.7" height="8.5" fill="#ee5f6b"/><rect x="284.74" y="141.0" width="1.4" height="29.5" fill="#ee5f6b" opacity="0.62"/><rect x="284.09" y="141.0" width="2.7" height="23.0" fill="#ee5f6b"/><rect x="288.60" y="146.0" width="1.4" height="18.0" fill="#2fb594" opacity="0.62"/><rect x="287.95" y="154.0" width="2.7" height="10.0" fill="#2fb594"/><rect x="291.81" y="128.0" width="2.7" height="26.5" fill="#2fb594"/><rect x="296.32" y="127.5" width="1.4" height="90.0" fill="#ee5f6b" opacity="0.62"/><rect x="295.67" y="127.5" width="2.7" height="67.5" fill="#ee5f6b"/><rect x="300.19" y="195.0" width="1.4" height="29.0" fill="#ee5f6b" opacity="0.62"/><rect x="299.54" y="195.0" width="2.7" height="1.0" fill="#ee5f6b"/><rect x="304.05" y="195.0" width="1.4" height="14.0" fill="#ee5f6b" opacity="0.62"/><rect x="303.40" y="195.0" width="2.7" height="4.0" fill="#ee5f6b"/><rect x="307.91" y="158.0" width="1.4" height="39.5" fill="#2fb594" opacity="0.62"/><rect x="307.26" y="169.5" width="2.7" height="28.0" fill="#2fb594"/><rect x="311.77" y="155.0" width="1.4" height="17.0" fill="#ee5f6b" opacity="0.62"/><rect x="311.12" y="167.5" width="2.7" height="4.5" fill="#ee5f6b"/><rect x="315.64" y="164.0" width="1.4" height="41.5" fill="#ee5f6b" opacity="0.62"/><rect x="314.99" y="170.5" width="2.7" height="35.0" fill="#ee5f6b"/><rect x="319.50" y="196.0" width="1.4" height="41.0" fill="#ee5f6b" opacity="0.62"/><rect x="318.85" y="204.0" width="2.7" height="33.0" fill="#ee5f6b"/><rect x="322.71" y="201.0" width="2.7" height="36.0" fill="#2fb594"/><rect x="327.22" y="175.0" width="1.4" height="34.0" fill="#2fb594" opacity="0.62"/><rect x="326.57" y="175.0" width="2.7" height="27.0" fill="#2fb594"/><rect x="331.09" y="175.0" width="1.4" height="16.0" fill="#ee5f6b" opacity="0.62"/><rect x="330.44" y="175.0" width="2.7" height="11.0" fill="#ee5f6b"/><rect x="334.95" y="177.0" width="1.4" height="14.0" fill="#2fb594" opacity="0.62"/><rect x="334.30" y="183.0" width="2.7" height="2.5" fill="#2fb594"/><rect x="338.16" y="140.5" width="2.7" height="43.5" fill="#2fb594"/><rect x="342.68" y="136.0" width="1.4" height="15.0" fill="#ee5f6b" opacity="0.62"/><rect x="342.02" y="140.0" width="2.7" height="7.5" fill="#ee5f6b"/><rect x="346.54" y="119.0" width="1.4" height="38.5" fill="#2fb594" opacity="0.62"/><rect x="345.89" y="130.5" width="2.7" height="16.5" fill="#2fb594"/><rect x="350.40" y="125.5" width="1.4" height="39.5" fill="#ee5f6b" opacity="0.62"/><rect x="349.75" y="130.5" width="2.7" height="34.5" fill="#ee5f6b"/><rect x="354.26" y="164.5" width="1.4" height="36.5" fill="#ee5f6b" opacity="0.62"/><rect x="353.61" y="164.5" width="2.7" height="21.5" fill="#ee5f6b"/><rect x="358.12" y="185.0" width="1.4" height="13.0" fill="#ee5f6b" opacity="0.62"/><rect x="357.47" y="185.0" width="2.7" height="7.5" fill="#ee5f6b"/><rect x="361.34" y="191.0" width="2.7" height="18.5" fill="#ee5f6b"/><rect x="365.85" y="200.0" width="1.4" height="40.0" fill="#ee5f6b" opacity="0.62"/><rect x="365.20" y="209.0" width="2.7" height="31.0" fill="#ee5f6b"/><rect x="369.71" y="227.0" width="1.4" height="15.5" fill="#2fb594" opacity="0.62"/><rect x="369.06" y="237.5" width="2.7" height="3.5" fill="#2fb594"/><rect x="373.57" y="224.5" width="1.4" height="15.5" fill="#2fb594" opacity="0.62"/><rect x="372.92" y="237.0" width="2.7" height="1.5" fill="#2fb594"/><rect x="377.44" y="235.0" width="1.4" height="11.0" fill="#2fb594" opacity="0.62"/><rect x="376.79" y="236.0" width="2.7" height="4.0" fill="#2fb594"/><rect x="381.30" y="232.5" width="1.4" height="11.5" fill="#2fb594" opacity="0.62"/><rect x="380.65" y="232.5" width="2.7" height="7.0" fill="#2fb594"/><rect x="385.16" y="229.5" width="1.4" height="11.5" fill="#2fb594" opacity="0.62"/><rect x="384.51" y="230.5" width="2.7" height="2.0" fill="#2fb594"/><rect x="389.02" y="231.0" width="1.4" height="11.0" fill="#ee5f6b" opacity="0.62"/><rect x="388.37" y="231.0" width="2.7" height="4.0" fill="#ee5f6b"/><rect x="392.89" y="231.0" width="1.4" height="12.0" fill="#2fb594" opacity="0.62"/><rect x="392.24" y="231.0" width="2.7" height="3.5" fill="#2fb594"/><rect x="396.10" y="192.0" width="2.7" height="40.5" fill="#2fb594"/><rect x="400.61" y="192.5" width="1.4" height="42.9" fill="#ee5f6b" opacity="0.62"/><rect x="399.96" y="192.5" width="2.7" height="38.5" fill="#ee5f6b"/><rect x="404.47" y="223.4" width="1.4" height="15.1" fill="#2fb594" opacity="0.62"/><rect x="403.82" y="223.4" width="2.7" height="7.1" fill="#2fb594"/><rect x="407.69" y="219.5" width="2.7" height="5.0" fill="#2fb594"/><rect x="412.20" y="218.0" width="1.4" height="7.5" fill="#ee5f6b" opacity="0.62"/><rect x="411.55" y="218.0" width="2.7" height="4.5" fill="#ee5f6b"/><rect x="415.41" y="217.0" width="2.7" height="5.5" fill="#2fb594"/><rect x="419.92" y="210.0" width="1.4" height="14.5" fill="#ee5f6b" opacity="0.62"/><rect x="419.27" y="216.0" width="2.7" height="2.0" fill="#ee5f6b"/><rect x="423.79" y="217.0" width="1.4" height="18.0" fill="#ee5f6b" opacity="0.62"/><rect x="423.14" y="217.0" width="2.7" height="14.0" fill="#ee5f6b"/><rect x="427.65" y="226.0" width="1.4" height="19.4" fill="#ee5f6b" opacity="0.62"/><rect x="427.00" y="229.0" width="2.7" height="7.0" fill="#ee5f6b"/><rect x="430.86" y="235.5" width="2.7" height="82.0" fill="#ee5f6b"/><rect x="434.72" y="314.5" width="2.7" height="3.0" fill="#2fb594"/><rect x="439.24" y="307.5" width="1.4" height="17.0" fill="#2fb594" opacity="0.62"/><rect x="438.59" y="309.5" width="2.7" height="6.5" fill="#2fb594"/><rect x="443.10" y="264.5" width="1.4" height="46.0" fill="#2fb594" opacity="0.62"/><rect x="442.45" y="273.0" width="2.7" height="37.5" fill="#2fb594"/><rect x="446.96" y="273.0" width="1.4" height="18.0" fill="#ee5f6b" opacity="0.62"/><rect x="446.31" y="273.0" width="2.7" height="14.5" fill="#ee5f6b"/><rect x="450.82" y="275.0" width="1.4" height="12.5" fill="#2fb594" opacity="0.62"/><rect x="450.17" y="282.0" width="2.7" height="5.5" fill="#2fb594"/><rect x="454.69" y="278.0" width="1.4" height="9.5" fill="#2fb594" opacity="0.62"/><rect x="454.04" y="278.0" width="2.7" height="6.5" fill="#2fb594"/><rect x="458.55" y="274.0" width="1.4" height="10.5" fill="#ee5f6b" opacity="0.62"/><rect x="457.90" y="277.5" width="2.7" height="7.0" fill="#ee5f6b"/><rect x="462.41" y="278.0" width="1.4" height="6.0" fill="#2fb594" opacity="0.62"/><rect x="461.76" y="280.0" width="2.7" height="4.0" fill="#2fb594"/><rect x="466.27" y="267.0" width="1.4" height="15.5" fill="#2fb594" opacity="0.62"/><rect x="465.62" y="274.0" width="2.7" height="8.5" fill="#2fb594"/><rect x="469.49" y="266.0" width="2.7" height="9.0" fill="#2fb594"/><rect x="474.00" y="266.0" width="1.4" height="11.0" fill="#ee5f6b" opacity="0.62"/><rect x="473.35" y="266.0" width="2.7" height="7.0" fill="#ee5f6b"/><rect x="477.21" y="252.5" width="2.7" height="20.0" fill="#2fb594"/><rect x="481.07" y="181.0" width="2.7" height="72.0" fill="#2fb594"/><rect x="485.59" y="155.5" width="1.4" height="51.5" fill="#2fb594" opacity="0.62"/><rect x="484.94" y="155.5" width="2.7" height="25.5" fill="#2fb594"/><rect x="488.80" y="155.0" width="2.7" height="45.0" fill="#ee5f6b"/><rect x="492.66" y="199.5" width="2.7" height="13.0" fill="#ee5f6b"/><rect x="496.52" y="187.5" width="2.7" height="26.0" fill="#2fb594"/><rect x="501.04" y="179.0" width="1.4" height="13.5" fill="#2fb594" opacity="0.62"/><rect x="500.39" y="184.0" width="2.7" height="4.5" fill="#2fb594"/><rect x="504.90" y="175.0" width="1.4" height="17.5" fill="#2fb594" opacity="0.62"/><rect x="504.25" y="182.5" width="2.7" height="1.5" fill="#2fb594"/><rect x="508.11" y="153.0" width="2.7" height="32.0" fill="#2fb594"/><rect x="512.62" y="148.0" width="1.4" height="34.5" fill="#ee5f6b" opacity="0.62"/><rect x="511.98" y="153.0" width="2.7" height="8.0" fill="#ee5f6b"/><rect x="516.49" y="152.5" width="1.4" height="18.5" fill="#ee5f6b" opacity="0.62"/><rect x="515.84" y="160.0" width="2.7" height="6.0" fill="#ee5f6b"/><rect x="520.35" y="157.0" width="1.4" height="14.0" fill="#2fb594" opacity="0.62"/><rect x="519.70" y="157.0" width="2.7" height="8.5" fill="#2fb594"/><rect x="524.21" y="147.0" width="1.4" height="15.5" fill="#2fb594" opacity="0.62"/><rect x="523.56" y="154.5" width="2.7" height="4.5" fill="#2fb594"/><rect x="528.07" y="146.0" width="1.4" height="22.0" fill="#ee5f6b" opacity="0.62"/><rect x="527.42" y="155.0" width="2.7" height="6.0" fill="#ee5f6b"/><rect x="531.94" y="161.0" width="1.4" height="18.5" fill="#ee5f6b" opacity="0.62"/><rect x="531.29" y="161.0" width="2.7" height="13.0" fill="#ee5f6b"/><rect x="535.80" y="161.0" width="1.4" height="13.0" fill="#2fb594" opacity="0.62"/><rect x="535.15" y="164.0" width="2.7" height="10.0" fill="#2fb594"/><rect x="539.01" y="165.0" width="2.7" height="7.5" fill="#ee5f6b"/><rect x="543.52" y="169.0" width="1.4" height="10.0" fill="#ee5f6b" opacity="0.62"/><rect x="542.88" y="171.0" width="2.7" height="8.0" fill="#ee5f6b"/><rect x="546.74" y="178.0" width="2.7" height="24.0" fill="#ee5f6b"/><rect x="551.25" y="196.0" width="1.4" height="17.5" fill="#ee5f6b" opacity="0.62"/><rect x="550.60" y="201.0" width="2.7" height="12.5" fill="#ee5f6b"/><rect x="555.11" y="207.5" width="1.4" height="11.5" fill="#ee5f6b" opacity="0.62"/><rect x="554.46" y="212.0" width="2.7" height="7.0" fill="#ee5f6b"/><rect x="558.98" y="208.5" width="1.4" height="13.0" fill="#2fb594" opacity="0.62"/><rect x="558.33" y="214.0" width="2.7" height="5.7" fill="#2fb594"/><rect x="562.19" y="214.6" width="2.7" height="6.0" fill="#ee5f6b"/><rect x="566.70" y="213.0" width="1.4" height="10.5" fill="#2fb594" opacity="0.62"/><rect x="566.05" y="218.0" width="2.7" height="1.5" fill="#2fb594"/><rect x="569.91" y="198.5" width="2.7" height="21.2" fill="#2fb594"/><rect x="573.77" y="191.0" width="2.7" height="9.4" fill="#2fb594"/><rect x="578.29" y="185.4" width="1.4" height="12.6" fill="#2fb594" opacity="0.62"/><rect x="577.64" y="185.4" width="2.7" height="7.1" fill="#2fb594"/><rect x="581.50" y="168.0" width="2.7" height="19.0" fill="#2fb594"/><rect x="586.01" y="155.5" width="1.4" height="13.5" fill="#2fb594" opacity="0.62"/><rect x="585.36" y="165.5" width="2.7" height="3.5" fill="#2fb594"/><rect x="589.88" y="166.0" width="1.4" height="15.0" fill="#ee5f6b" opacity="0.62"/><rect x="589.23" y="166.0" width="2.7" height="8.5" fill="#ee5f6b"/><rect x="593.74" y="113.0" width="1.4" height="61.5" fill="#2fb594" opacity="0.62"/><rect x="593.09" y="124.0" width="2.7" height="50.5" fill="#2fb594"/><rect x="597.60" y="83.0" width="1.4" height="52.0" fill="#ee5f6b" opacity="0.62"/><rect x="596.95" y="124.0" width="2.7" height="11.0" fill="#ee5f6b"/><rect x="601.46" y="134.0" width="1.4" height="21.0" fill="#ee5f6b" opacity="0.62"/><rect x="600.81" y="134.0" width="2.7" height="15.5" fill="#ee5f6b"/><rect x="605.32" y="133.0" width="1.4" height="21.5" fill="#2fb594" opacity="0.62"/><rect x="604.67" y="133.0" width="2.7" height="16.5" fill="#2fb594"/><rect x="608.54" y="111.0" width="2.7" height="24.0" fill="#2fb594"/><rect x="613.05" y="97.5" width="1.4" height="15.0" fill="#ee5f6b" opacity="0.62"/><rect x="612.40" y="111.0" width="2.7" height="1.5" fill="#ee5f6b"/><rect x="616.26" y="112.0" width="2.7" height="27.0" fill="#ee5f6b"/><rect x="620.77" y="138.0" width="1.4" height="31.5" fill="#ee5f6b" opacity="0.62"/><rect x="620.12" y="138.0" width="2.7" height="28.0" fill="#ee5f6b"/><rect x="624.64" y="160.5" width="1.4" height="10.5" fill="#ee5f6b" opacity="0.62"/><rect x="623.99" y="165.0" width="2.7" height="6.0" fill="#ee5f6b"/><rect x="628.50" y="149.5" width="1.4" height="21.5" fill="#2fb594" opacity="0.62"/><rect x="627.85" y="156.0" width="2.7" height="15.0" fill="#2fb594"/><rect x="631.71" y="151.0" width="2.7" height="7.0" fill="#ee5f6b"/><rect x="636.23" y="151.0" width="1.4" height="40.6" fill="#ee5f6b" opacity="0.62"/><rect x="635.58" y="156.0" width="2.7" height="35.6" fill="#ee5f6b"/><rect x="640.09" y="183.5" width="1.4" height="11.5" fill="#2fb594" opacity="0.62"/><rect x="639.44" y="183.5" width="2.7" height="8.1" fill="#2fb594"/><rect x="643.95" y="171.0" width="1.4" height="18.7" fill="#ee5f6b" opacity="0.62"/><rect x="643.30" y="182.8" width="2.7" height="6.9" fill="#ee5f6b"/><rect x="647.16" y="182.0" width="2.7" height="6.8" fill="#2fb594"/><rect x="651.67" y="179.8" width="1.4" height="10.2" fill="#ee5f6b" opacity="0.62"/><rect x="651.02" y="182.0" width="2.7" height="8.0" fill="#ee5f6b"/><rect x="655.54" y="183.5" width="1.4" height="10.9" fill="#ee5f6b" opacity="0.62"/><rect x="654.89" y="188.0" width="2.7" height="6.4" fill="#ee5f6b"/><rect x="659.40" y="182.0" width="1.4" height="23.6" fill="#ee5f6b" opacity="0.62"/><rect x="658.75" y="193.5" width="2.7" height="12.1" fill="#ee5f6b"/><rect x="663.26" y="201.5" width="1.4" height="6.0" fill="#2fb594" opacity="0.62"/><rect x="662.61" y="203.8" width="2.7" height="2.2" fill="#2fb594"/><rect x="667.12" y="201.0" width="1.4" height="6.5" fill="#ee5f6b" opacity="0.62"/><rect x="666.48" y="204.0" width="2.7" height="3.5" fill="#ee5f6b"/><rect x="670.34" y="206.6" width="2.7" height="30.9" fill="#ee5f6b"/><rect x="674.85" y="209.4" width="1.4" height="32.6" fill="#2fb594" opacity="0.62"/><rect x="674.20" y="212.0" width="2.7" height="25.5" fill="#2fb594"/><rect x="678.71" y="210.3" width="1.4" height="8.7" fill="#ee5f6b" opacity="0.62"/><rect x="678.06" y="213.5" width="2.7" height="2.5" fill="#ee5f6b"/><rect x="681.92" y="215.0" width="2.7" height="19.7" fill="#ee5f6b"/><rect x="686.44" y="231.0" width="1.4" height="18.7" fill="#ee5f6b" opacity="0.62"/><rect x="685.79" y="233.4" width="2.7" height="16.3" fill="#ee5f6b"/><rect x="690.30" y="237.0" width="1.4" height="12.0" fill="#2fb594" opacity="0.62"/><rect x="689.65" y="241.0" width="2.7" height="8.0" fill="#2fb594"/><rect x="693.51" y="241.0" width="2.7" height="12.5" fill="#ee5f6b"/><rect x="697.38" y="242.0" width="2.7" height="11.5" fill="#2fb594"/><rect x="701.89" y="236.0" width="1.4" height="16.5" fill="#ee5f6b" opacity="0.62"/><rect x="701.24" y="242.0" width="2.7" height="1.5" fill="#ee5f6b"/><rect x="705.75" y="242.8" width="1.4" height="13.2" fill="#ee5f6b" opacity="0.62"/><rect x="705.10" y="242.8" width="2.7" height="10.7" fill="#ee5f6b"/><rect x="709.61" y="208.5" width="1.4" height="43.5" fill="#2fb594" opacity="0.62"/><rect x="708.96" y="212.8" width="2.7" height="39.2" fill="#2fb594"/><rect x="713.48" y="193.5" width="1.4" height="20.0" fill="#2fb594" opacity="0.62"/><rect x="712.83" y="205.6" width="2.7" height="7.9" fill="#2fb594"/><rect x="716.69" y="197.8" width="2.7" height="8.2" fill="#2fb594"/><rect x="720.55" y="197.8" width="2.7" height="13.8" fill="#ee5f6b"/><rect x="725.06" y="201.0" width="1.4" height="10.6" fill="#2fb594" opacity="0.62"/><rect x="724.41" y="203.8" width="2.7" height="7.8" fill="#2fb594"/><rect x="728.92" y="202.0" width="1.4" height="9.6" fill="#2fb594" opacity="0.62"/><rect x="728.27" y="202.0" width="2.7" height="3.6" fill="#2fb594"/><rect x="732.79" y="187.0" width="1.4" height="16.8" fill="#2fb594" opacity="0.62"/><rect x="732.14" y="193.5" width="2.7" height="10.3" fill="#2fb594"/><rect x="736.65" y="183.0" width="1.4" height="16.0" fill="#2fb594" opacity="0.62"/><rect x="736.00" y="183.0" width="2.7" height="11.4" fill="#2fb594"/><rect x="740.51" y="176.5" width="1.4" height="11.5" fill="#2fb594" opacity="0.62"/><rect x="739.86" y="176.5" width="2.7" height="7.0" fill="#2fb594"/><rect x="744.38" y="176.5" width="1.4" height="11.5" fill="#ee5f6b" opacity="0.62"/><rect x="743.73" y="176.5" width="2.7" height="4.5" fill="#ee5f6b"/><rect x="748.24" y="173.4" width="1.4" height="10.1" fill="#2fb594" opacity="0.62"/><rect x="747.59" y="176.5" width="2.7" height="7.0" fill="#2fb594"/><rect x="752.10" y="171.0" width="1.4" height="12.5" fill="#ee5f6b" opacity="0.62"/><rect x="751.45" y="177.0" width="2.7" height="6.5" fill="#ee5f6b"/><rect x="755.96" y="180.3" width="1.4" height="10.7" fill="#ee5f6b" opacity="0.62"/><rect x="755.31" y="182.8" width="2.7" height="8.2" fill="#ee5f6b"/><rect x="759.82" y="188.4" width="1.4" height="7.9" fill="#2fb594" opacity="0.62"/><rect x="759.17" y="188.4" width="2.7" height="3.6" fill="#2fb594"/><rect x="763.69" y="188.4" width="1.4" height="10.1" fill="#ee5f6b" opacity="0.62"/><rect x="763.04" y="188.4" width="2.7" height="7.6" fill="#ee5f6b"/><rect x="766.90" y="192.5" width="2.7" height="5.0" fill="#ee5f6b"/><rect x="770.76" y="180.0" width="2.7" height="17.0" fill="#2fb594"/><rect x="775.27" y="168.0" width="1.4" height="19.0" fill="#2fb594" opacity="0.62"/><rect x="774.62" y="174.5" width="2.7" height="6.0" fill="#2fb594"/><rect x="779.14" y="163.5" width="1.4" height="12.1" fill="#2fb594" opacity="0.62"/><rect x="778.49" y="173.5" width="2.7" height="2.1" fill="#2fb594"/><rect x="783.00" y="171.0" width="1.4" height="8.5" fill="#ee5f6b" opacity="0.62"/><rect x="782.35" y="174.0" width="2.7" height="5.5" fill="#ee5f6b"/><rect x="786.21" y="177.5" width="2.7" height="13.0" fill="#ee5f6b"/><rect x="790.72" y="173.8" width="1.4" height="16.8" fill="#2fb594" opacity="0.62"/><rect x="790.07" y="184.6" width="2.7" height="6.0" fill="#2fb594"/><rect x="793.94" y="184.2" width="2.7" height="7.2" fill="#ee5f6b"/><rect x="798.45" y="178.5" width="1.4" height="12.5" fill="#2fb594" opacity="0.62"/><rect x="797.80" y="184.0" width="2.7" height="7.0" fill="#2fb594"/><rect x="802.31" y="178.5" width="1.4" height="10.5" fill="#ee5f6b" opacity="0.62"/><rect x="801.66" y="184.0" width="2.7" height="5.0" fill="#ee5f6b"/><rect x="806.17" y="181.6" width="1.4" height="12.8" fill="#2fb594" opacity="0.62"/><rect x="805.52" y="186.0" width="2.7" height="3.0" fill="#2fb594"/><rect x="810.04" y="184.6" width="1.4" height="7.0" fill="#2fb594" opacity="0.62"/><rect x="809.39" y="184.6" width="2.7" height="2.4" fill="#2fb594"/><rect x="813.90" y="183.5" width="1.4" height="8.1" fill="#2fb594" opacity="0.62"/><rect x="813.25" y="184.0" width="2.7" height="1.0" fill="#2fb594"/><rect x="817.76" y="174.7" width="1.4" height="16.9" fill="#2fb594" opacity="0.62"/><rect x="817.11" y="174.7" width="2.7" height="9.9" fill="#2fb594"/><rect x="821.62" y="159.7" width="1.4" height="22.3" fill="#2fb594" opacity="0.62"/><rect x="820.98" y="159.7" width="2.7" height="15.9" fill="#2fb594"/><rect x="824.84" y="159.7" width="2.7" height="11.3" fill="#ee5f6b"/><rect x="828.70" y="169.0" width="2.7" height="18.0" fill="#ee5f6b"/><rect x="833.21" y="180.3" width="1.4" height="10.4" fill="#2fb594" opacity="0.62"/><rect x="832.56" y="184.0" width="2.7" height="3.0" fill="#2fb594"/><rect x="837.07" y="184.0" width="1.4" height="8.5" fill="#2fb594" opacity="0.62"/><rect x="836.42" y="184.0" width="2.7" height="1.0" fill="#2fb594"/><rect x="840.94" y="171.5" width="1.4" height="18.2" fill="#2fb594" opacity="0.62"/><rect x="840.29" y="171.5" width="2.7" height="13.1" fill="#2fb594"/><rect x="844.15" y="171.5" width="2.7" height="16.3" fill="#ee5f6b"/><rect x="848.66" y="182.0" width="1.4" height="35.3" fill="#ee5f6b" opacity="0.62"/><rect x="848.01" y="187.0" width="2.7" height="30.3" fill="#ee5f6b"/><rect x="852.52" y="209.0" width="1.4" height="8.3" fill="#2fb594" opacity="0.62"/><rect x="851.88" y="213.5" width="2.7" height="3.8" fill="#2fb594"/><rect x="856.39" y="211.3" width="1.4" height="6.5" fill="#ee5f6b" opacity="0.62"/><rect x="855.74" y="212.0" width="2.7" height="3.0" fill="#ee5f6b"/><rect x="859.60" y="214.0" width="2.7" height="9.5" fill="#ee5f6b"/><rect x="864.11" y="209.4" width="1.4" height="14.6" fill="#2fb594" opacity="0.62"/><rect x="863.46" y="212.0" width="2.7" height="12.0" fill="#2fb594"/><rect x="867.97" y="206.6" width="1.4" height="10.4" fill="#2fb594" opacity="0.62"/><rect x="867.32" y="206.6" width="2.7" height="6.4" fill="#2fb594"/><rect x="871.84" y="201.0" width="1.4" height="7.5" fill="#2fb594" opacity="0.62"/><rect x="871.19" y="203.8" width="2.7" height="4.7" fill="#2fb594"/><rect x="875.70" y="202.3" width="1.4" height="8.7" fill="#2fb594" opacity="0.62"/><rect x="875.05" y="202.3" width="2.7" height="3.3" fill="#2fb594"/><rect x="878.91" y="202.3" width="2.7" height="10.5" fill="#ee5f6b"/><rect x="883.42" y="209.4" width="1.4" height="7.6" fill="#2fb594" opacity="0.62"/><rect x="882.77" y="209.4" width="2.7" height="4.1" fill="#2fb594"/><rect x="887.29" y="208.5" width="1.4" height="8.5" fill="#ee5f6b" opacity="0.62"/><rect x="886.64" y="210.3" width="2.7" height="6.7" fill="#ee5f6b"/><rect x="891.15" y="213.5" width="1.4" height="6.2" fill="#ee5f6b" opacity="0.62"/><rect x="890.50" y="214.7" width="2.7" height="5.0" fill="#ee5f6b"/><rect x="895.01" y="212.8" width="1.4" height="6.0" fill="#2fb594" opacity="0.62"/><rect x="894.36" y="217.0" width="2.7" height="1.8" fill="#2fb594"/><rect x="898.88" y="212.2" width="1.4" height="8.4" fill="#ee5f6b" opacity="0.62"/><rect x="898.23" y="217.8" width="2.7" height="2.8" fill="#ee5f6b"/><rect x="902.74" y="214.0" width="1.4" height="6.3" fill="#2fb594" opacity="0.62"/><rect x="902.09" y="217.0" width="2.7" height="3.3" fill="#2fb594"/><rect x="906.60" y="206.6" width="1.4" height="12.2" fill="#2fb594" opacity="0.62"/><rect x="905.95" y="214.0" width="2.7" height="4.8" fill="#2fb594"/><rect x="910.46" y="192.5" width="1.4" height="22.2" fill="#2fb594" opacity="0.62"/><rect x="909.81" y="194.8" width="2.7" height="19.9" fill="#2fb594"/><rect x="914.32" y="193.0" width="1.4" height="9.8" fill="#ee5f6b" opacity="0.62"/><rect x="913.67" y="194.4" width="2.7" height="8.4" fill="#ee5f6b"/><rect x="917.54" y="168.0" width="2.7" height="28.0" fill="#2fb594"/><rect x="922.05" y="162.5" width="1.4" height="11.5" fill="#2fb594" opacity="0.62"/><rect x="921.40" y="163.5" width="2.7" height="5.0" fill="#2fb594"/><rect x="925.91" y="154.6" width="1.4" height="30.0" fill="#ee5f6b" opacity="0.62"/><rect x="925.26" y="163.0" width="2.7" height="13.0" fill="#ee5f6b"/><rect x="929.77" y="171.0" width="1.4" height="7.5" fill="#ee5f6b" opacity="0.62"/><rect x="929.12" y="172.8" width="2.7" height="5.7" fill="#ee5f6b"/><rect x="933.64" y="173.4" width="1.4" height="13.6" fill="#ee5f6b" opacity="0.62"/><rect x="932.99" y="176.6" width="2.7" height="10.4" fill="#ee5f6b"/><rect x="937.50" y="180.3" width="1.4" height="13.2" fill="#ee5f6b" opacity="0.62"/><rect x="936.85" y="185.0" width="2.7" height="8.5" fill="#ee5f6b"/><rect x="941.36" y="184.6" width="1.4" height="9.8" fill="#2fb594" opacity="0.62"/><rect x="940.71" y="189.0" width="2.7" height="5.4" fill="#2fb594"/><rect x="945.22" y="184.6" width="1.4" height="7.4" fill="#2fb594" opacity="0.62"/><rect x="944.57" y="186.5" width="2.7" height="5.5" fill="#2fb594"/><rect x="949.09" y="184.6" width="1.4" height="11.7" fill="#ee5f6b" opacity="0.62"/><rect x="948.44" y="187.0" width="2.7" height="9.3" fill="#ee5f6b"/><rect x="952.30" y="196.0" width="2.7" height="24.3" fill="#ee5f6b"/><rect x="956.16" y="219.3" width="2.7" height="27.7" fill="#ee5f6b"/><rect x="960.67" y="242.7" width="1.4" height="10.3" fill="#2fb594" opacity="0.62"/><rect x="960.02" y="242.7" width="2.7" height="5.0" fill="#2fb594"/><rect x="963.89" y="242.7" width="2.7" height="10.5" fill="#ee5f6b"/><rect x="968.40" y="240.6" width="1.4" height="12.6" fill="#2fb594" opacity="0.62"/><rect x="967.75" y="245.0" width="2.7" height="8.2" fill="#2fb594"/><rect x="971.61" y="235.5" width="2.7" height="10.2" fill="#2fb594"/><rect x="976.12" y="229.5" width="1.4" height="16.2" fill="#2fb594" opacity="0.62"/><rect x="975.48" y="233.5" width="2.7" height="4.8" fill="#2fb594"/><rect x="979.34" y="232.5" width="2.7" height="2.7" fill="#2fb594"/><rect x="983.85" y="205.7" width="1.4" height="29.3" fill="#2fb594" opacity="0.62"/><rect x="983.20" y="207.0" width="2.7" height="28.0" fill="#2fb594"/><rect x="987.71" y="207.7" width="1.4" height="9.6" fill="#ee5f6b" opacity="0.62"/><rect x="987.06" y="207.7" width="2.7" height="5.6" fill="#ee5f6b"/><rect x="990.92" y="211.8" width="2.7" height="11.2" fill="#ee5f6b"/><rect x="994.79" y="217.2" width="2.7" height="5.8" fill="#2fb594"/><rect x="998.65" y="217.3" width="2.7" height="11.1" fill="#ee5f6b"/><rect x="1003.16" y="217.3" width="1.4" height="11.1" fill="#2fb594" opacity="0.62"/><rect x="1002.51" y="220.3" width="2.7" height="8.1" fill="#2fb594"/><rect x="1007.02" y="217.9" width="1.4" height="31.9" fill="#ee5f6b" opacity="0.62"/><rect x="1006.38" y="224.4" width="2.7" height="25.4" fill="#ee5f6b"/><rect x="1010.24" y="248.7" width="2.7" height="6.1" fill="#ee5f6b"/><rect x="1014.75" y="251.2" width="1.4" height="17.8" fill="#ee5f6b" opacity="0.62"/><rect x="1014.10" y="253.2" width="2.7" height="15.8" fill="#ee5f6b"/><rect x="1017.96" y="262.0" width="2.7" height="7.0" fill="#2fb594"/><rect x="1021.82" y="261.0" width="2.7" height="26.0" fill="#ee5f6b"/><rect x="1025.69" y="269.0" width="2.7" height="18.0" fill="#2fb594"/><rect x="1030.20" y="265.0" width="1.4" height="9.7" fill="#ee5f6b" opacity="0.62"/><rect x="1029.55" y="269.0" width="2.7" height="5.7" fill="#ee5f6b"/><rect x="1033.41" y="268.6" width="2.7" height="5.4" fill="#2fb594"/><rect x="1037.92" y="265.4" width="1.4" height="6.1" fill="#2fb594" opacity="0.62"/><rect x="1037.28" y="268.0" width="2.7" height="2.0" fill="#2fb594"/><rect x="1041.79" y="267.0" width="1.4" height="4.0" fill="#ee5f6b" opacity="0.62"/><rect x="1041.14" y="268.6" width="2.7" height="2.4" fill="#ee5f6b"/><rect x="1045.65" y="268.0" width="1.4" height="3.5" fill="#ee5f6b" opacity="0.62"/><rect x="1045.00" y="269.5" width="2.7" height="2.0" fill="#ee5f6b"/><rect x="1049.51" y="267.4" width="1.4" height="34.2" fill="#ee5f6b" opacity="0.62"/><rect x="1048.86" y="270.0" width="2.7" height="31.6" fill="#ee5f6b"/><rect x="1052.73" y="300.8" width="2.7" height="11.0" fill="#ee5f6b"/><rect x="1057.24" y="297.2" width="1.4" height="16.3" fill="#2fb594" opacity="0.62"/><rect x="1056.59" y="297.2" width="2.7" height="13.3" fill="#2fb594"/><rect x="1061.10" y="292.8" width="1.4" height="7.2" fill="#2fb594" opacity="0.62"/><rect x="1060.45" y="292.8" width="2.7" height="5.1" fill="#2fb594"/><rect x="1064.31" y="292.3" width="2.7" height="9.6" fill="#ee5f6b"/><rect x="1068.18" y="293.6" width="2.7" height="8.0" fill="#2fb594"/><rect x="1072.69" y="290.0" width="1.4" height="10.3" fill="#ee5f6b" opacity="0.62"/><rect x="1072.04" y="293.2" width="2.7" height="7.1" fill="#ee5f6b"/><rect x="1075.90" y="296.6" width="2.7" height="8.6" fill="#ee5f6b"/><rect x="1080.41" y="300.0" width="1.4" height="7.8" fill="#ee5f6b" opacity="0.62"/><rect x="1079.76" y="303.9" width="2.7" height="3.9" fill="#ee5f6b"/><rect x="1083.62" y="305.9" width="2.7" height="2.6" fill="#ee5f6b"/><rect x="1087.49" y="307.8" width="2.7" height="4.4" fill="#ee5f6b"/><rect x="1091.35" y="308.5" width="2.7" height="3.7" fill="#2fb594"/><rect x="1095.86" y="307.2" width="1.4" height="4.0" fill="#2fb594" opacity="0.62"/><rect x="1095.21" y="308.8" width="2.7" height="1.2" fill="#2fb594"/><rect x="1099.72" y="307.5" width="1.4" height="3.5" fill="#2fb594" opacity="0.62"/><rect x="1099.08" y="308.5" width="2.7" height="1.3" fill="#2fb594"/><rect x="1103.59" y="307.2" width="1.4" height="8.6" fill="#ee5f6b" opacity="0.62"/><rect x="1102.94" y="308.5" width="2.7" height="7.3" fill="#ee5f6b"/><rect x="1107.45" y="312.2" width="1.4" height="4.5" fill="#2fb594" opacity="0.62"/><rect x="1106.80" y="313.2" width="2.7" height="1.3" fill="#2fb594"/><rect x="1110.66" y="313.6" width="2.7" height="1.0" fill="#ee5f6b"/><rect x="1115.17" y="313.8" width="1.4" height="4.7" fill="#ee5f6b" opacity="0.62"/><rect x="1114.53" y="313.8" width="2.7" height="3.7" fill="#ee5f6b"/><rect x="1118.39" y="313.8" width="2.7" height="3.2" fill="#2fb594"/><rect x="1122.25" y="314.5" width="2.7" height="1.7" fill="#ee5f6b"/><rect x="1126.11" y="313.8" width="2.7" height="2.4" fill="#2fb594"/><rect x="1130.62" y="312.8" width="1.4" height="3.9" fill="#2fb594" opacity="0.62"/><rect x="1129.98" y="312.8" width="2.7" height="1.7" fill="#2fb594"/><rect x="1133.84" y="312.2" width="2.7" height="2.3" fill="#2fb594"/><rect x="1137.70" y="312.5" width="2.7" height="3.3" fill="#ee5f6b"/><rect x="1141.56" y="305.6" width="2.7" height="10.2" fill="#2fb594"/><rect x="1146.08" y="305.9" width="1.4" height="7.3" fill="#ee5f6b" opacity="0.62"/><rect x="1145.43" y="305.9" width="2.7" height="2.9" fill="#ee5f6b"/><rect x="1149.29" y="307.8" width="2.7" height="7.4" fill="#ee5f6b"/><rect x="1153.80" y="309.8" width="1.4" height="5.4" fill="#ee5f6b" opacity="0.62"/><rect x="1153.15" y="312.5" width="2.7" height="2.7" fill="#ee5f6b"/><rect x="1157.66" y="300.5" width="1.4" height="15.3" fill="#2fb594" opacity="0.62"/><rect x="1157.01" y="304.8" width="2.7" height="11.0" fill="#2fb594"/><rect x="1160.88" y="297.2" width="2.7" height="8.9" fill="#2fb594"/><rect x="1165.39" y="288.3" width="1.4" height="13.3" fill="#2fb594" opacity="0.62"/><rect x="1164.74" y="288.3" width="2.7" height="9.6" fill="#2fb594"/><rect x="1169.25" y="283.0" width="1.4" height="11.2" fill="#2fb594" opacity="0.62"/><rect x="1168.60" y="283.0" width="2.7" height="7.0" fill="#2fb594"/><rect x="1173.11" y="280.0" width="1.4" height="8.6" fill="#ee5f6b" opacity="0.62"/><rect x="1172.46" y="281.7" width="2.7" height="3.2" fill="#ee5f6b"/><rect x="1176.33" y="271.0" width="2.7" height="13.0" fill="#2fb594"/><rect x="1180.84" y="187.0" width="1.4" height="90.3" fill="#2fb594" opacity="0.62"/><rect x="1180.19" y="201.0" width="2.7" height="70.5" fill="#2fb594"/><rect x="1184.05" y="193.5" width="2.7" height="8.5" fill="#2fb594"/></g>
</g>
<g><circle cx="509.6" cy="59.8" r="27.5" fill="#9b61c4"/><text x="499.85" y="66.0" font-size="22" font-weight="bold" fill="#fbeafb" stroke="#fbeafb" stroke-width="0.66" textLength="19.5" lengthAdjust="spacingAndGlyphs">TI</text><circle cx="780" cy="108.7" r="16.1" fill="#9b61c4"/><text x="773.00" y="113.5" font-size="16.8" font-weight="bold" fill="#fbeafb" stroke="#fbeafb" stroke-width="0.50" textLength="14" lengthAdjust="spacingAndGlyphs">TI</text><circle cx="131.8" cy="339.2" r="22.5" fill="#9b61c4"/><text x="122.05" y="345.6" font-size="22" font-weight="bold" fill="#fbeafb" stroke="#fbeafb" stroke-width="0.66" textLength="19.5" lengthAdjust="spacingAndGlyphs">TI</text><circle cx="23.3" cy="251.4" r="7.4" fill="#9b61c4"/><text x="19.85" y="255.0" font-size="12" font-weight="bold" fill="#fbeafb" stroke="#fbeafb" stroke-width="0.36" textLength="8.3" lengthAdjust="spacingAndGlyphs">TI</text><circle cx="1073.4" cy="258.6" r="9.5" fill="#9b61c4"/><text x="1068.90" y="262.2" font-size="12" font-weight="bold" fill="#fbeafb" stroke="#fbeafb" stroke-width="0.36" textLength="9" lengthAdjust="spacingAndGlyphs">TI</text></g>
<g><text x="20.9" y="32.8" font-size="12.5" fill="#c2c5ce" stroke="#c2c5ce" stroke-width="0.3" text-anchor="start" textLength="32.4" lengthAdjust="spacingAndGlyphs" >LMTS,</text><text x="61.1" y="32.8" font-size="12.5" fill="#c2c5ce" stroke="#c2c5ce" stroke-width="0.3" text-anchor="start" textLength="15.6" lengthAdjust="spacingAndGlyphs" >1h,</text><text x="83" y="32.8" font-size="12.5" fill="#c2c5ce" stroke="#c2c5ce" stroke-width="0.3" text-anchor="start" textLength="55.7" lengthAdjust="spacingAndGlyphs" >nansen.ai</text><text x="147" y="32.8" font-size="12.5" fill="#c2c5ce" stroke="#c2c5ce" stroke-width="0.3" text-anchor="start" textLength="8.5" lengthAdjust="spacingAndGlyphs" >O</text><text x="156.6" y="32.8" font-size="12.5" fill="#23a88f" stroke="#23a88f" stroke-width="0.3" text-anchor="start" textLength="51.7" lengthAdjust="spacingAndGlyphs" >$0.33925</text><text x="217.8" y="32.8" font-size="12.5" fill="#c2c5ce" stroke="#c2c5ce" stroke-width="0.3" text-anchor="start" textLength="7.5" lengthAdjust="spacingAndGlyphs" >H</text><text x="226" y="32.8" font-size="12.5" fill="#23a88f" stroke="#23a88f" stroke-width="0.3" text-anchor="start" textLength="52" lengthAdjust="spacingAndGlyphs" >$0.34501</text><text x="288" y="32.8" font-size="12.5" fill="#c2c5ce" stroke="#c2c5ce" stroke-width="0.3" text-anchor="start" textLength="5.5" lengthAdjust="spacingAndGlyphs" >L</text><text x="294" y="32.8" font-size="12.5" fill="#23a88f" stroke="#23a88f" stroke-width="0.3" text-anchor="start" textLength="51.5" lengthAdjust="spacingAndGlyphs" >$0.34501</text><text x="355.4" y="32.8" font-size="12.5" fill="#c2c5ce" stroke="#c2c5ce" stroke-width="0.3" text-anchor="start" textLength="7.6" lengthAdjust="spacingAndGlyphs" >C</text><text x="364" y="32.8" font-size="12.5" fill="#23a88f" stroke="#23a88f" stroke-width="0.3" text-anchor="start" textLength="51" lengthAdjust="spacingAndGlyphs" >$0.34501</text><text x="425" y="32.8" font-size="12.5" fill="#23a88f" stroke="#23a88f" stroke-width="0.3" text-anchor="start" textLength="106.6" lengthAdjust="spacingAndGlyphs" >$0.00576 (+1.70%)</text><text x="20.5" y="51.5" font-size="12.5" fill="#c2c5ce" stroke="#c2c5ce" stroke-width="0.3" text-anchor="start" textLength="42" lengthAdjust="spacingAndGlyphs" >Volume</text><text x="73.3" y="51.5" font-size="12.5" fill="#23a88f" stroke="#23a88f" stroke-width="0.3" text-anchor="start" textLength="11.7" lengthAdjust="spacingAndGlyphs" >17</text></g>
<g><text x="1205.3" y="43.2" font-size="13" fill="#b5b8c1" stroke="#b5b8c1" stroke-width="0.3" text-anchor="start" textLength="33" lengthAdjust="spacingAndGlyphs" >$0.45</text><text x="1205.3" y="117.2" font-size="13" fill="#b5b8c1" stroke="#b5b8c1" stroke-width="0.3" text-anchor="start" textLength="33" lengthAdjust="spacingAndGlyphs" >$0.40</text><text x="1205.3" y="191.2" font-size="13" fill="#b5b8c1" stroke="#b5b8c1" stroke-width="0.3" text-anchor="start" textLength="33" lengthAdjust="spacingAndGlyphs" >$0.35</text><text x="1205.3" y="265.2" font-size="13" fill="#b5b8c1" stroke="#b5b8c1" stroke-width="0.3" text-anchor="start" textLength="33" lengthAdjust="spacingAndGlyphs" >$0.30</text><text x="1205.3" y="339.2" font-size="13" fill="#b5b8c1" stroke="#b5b8c1" stroke-width="0.3" text-anchor="start" textLength="33" lengthAdjust="spacingAndGlyphs" >$0.25</text><text x="1205.3" y="413.2" font-size="13" fill="#b5b8c1" stroke="#b5b8c1" stroke-width="0.3" text-anchor="start" textLength="33" lengthAdjust="spacingAndGlyphs" >$0.20</text></g>
<g><text x="65.1" y="484.2" font-size="12.5" fill="#b5b8c1" stroke="#b5b8c1" stroke-width="0.3" text-anchor="middle" >24</text><text x="157.8" y="484.2" font-size="12.5" fill="#b5b8c1" stroke="#b5b8c1" stroke-width="0.3" text-anchor="middle" >25</text><text x="250.5" y="484.2" font-size="12.5" fill="#b5b8c1" stroke="#b5b8c1" stroke-width="0.3" text-anchor="middle" >26</text><text x="343.2" y="484.2" font-size="12.5" fill="#b5b8c1" stroke="#b5b8c1" stroke-width="0.3" text-anchor="middle" >27</text><text x="435.9" y="484.2" font-size="12.5" fill="#b5b8c1" stroke="#b5b8c1" stroke-width="0.3" text-anchor="middle" >28</text><text x="528.6" y="484.2" font-size="12.5" fill="#b5b8c1" stroke="#b5b8c1" stroke-width="0.3" text-anchor="middle" >29</text><text x="621.3" y="484.2" font-size="12.5" fill="#b5b8c1" stroke="#b5b8c1" stroke-width="0.3" text-anchor="middle" >30</text><text x="714.0" y="484.2" font-size="12.5" fill="#b5b8c1" stroke="#b5b8c1" stroke-width="0.3" text-anchor="middle" >31</text><text x="806.7" y="484.2" font-size="12.5" fill="#b5b8c1" stroke="#b5b8c1" stroke-width="0.3" text-anchor="middle" >Nov</text><text x="899.4" y="484.2" font-size="12.5" fill="#b5b8c1" stroke="#b5b8c1" stroke-width="0.3" text-anchor="middle" >2</text><text x="992.1" y="484.2" font-size="12.5" fill="#b5b8c1" stroke="#b5b8c1" stroke-width="0.3" text-anchor="middle" >3</text><text x="1084.8" y="484.2" font-size="12.5" fill="#b5b8c1" stroke="#b5b8c1" stroke-width="0.3" text-anchor="middle" >4</text><text x="1177.5" y="484.2" font-size="12.5" fill="#b5b8c1" stroke="#b5b8c1" stroke-width="0.3" text-anchor="middle" >5</text></g>
<rect x="1196.3" y="185" width="68.5" height="18" rx="1" fill="#39d085"/>
<text x="1206.4" y="198.6" font-size="12.5" fill="#0b5a44" stroke="#0b5a44" stroke-width="0.3" text-anchor="start" textLength="51.4" lengthAdjust="spacingAndGlyphs" >$0.34501</text>
<rect x="1196.3" y="445" width="29" height="18.5" rx="1.5" fill="#26b391"/>
<text x="1206.6" y="458.6" font-size="12.5" fill="#eef7f4" stroke="#eef7f4" stroke-width="0.3" text-anchor="start" textLength="13" lengthAdjust="spacingAndGlyphs" >17</text>
<g transform="translate(11.1,508.1) scale(0.614,0.583) translate(0,-4)" fill="#d8cfe8">
<path d="M14 22H7V11H0V4h14v18zM28 22h-8l7.5-18h8L28 22z"/><circle cx="20" cy="8" r="4"/>
</g>
<text x="36.9" y="518.6" font-size="13.2" fill="#cbc6d8" stroke="#cbc6d8" stroke-width="0.5" textLength="77.3" lengthAdjust="spacingAndGlyphs">TradingView</text>
</g>
</svg>
</body></html>
